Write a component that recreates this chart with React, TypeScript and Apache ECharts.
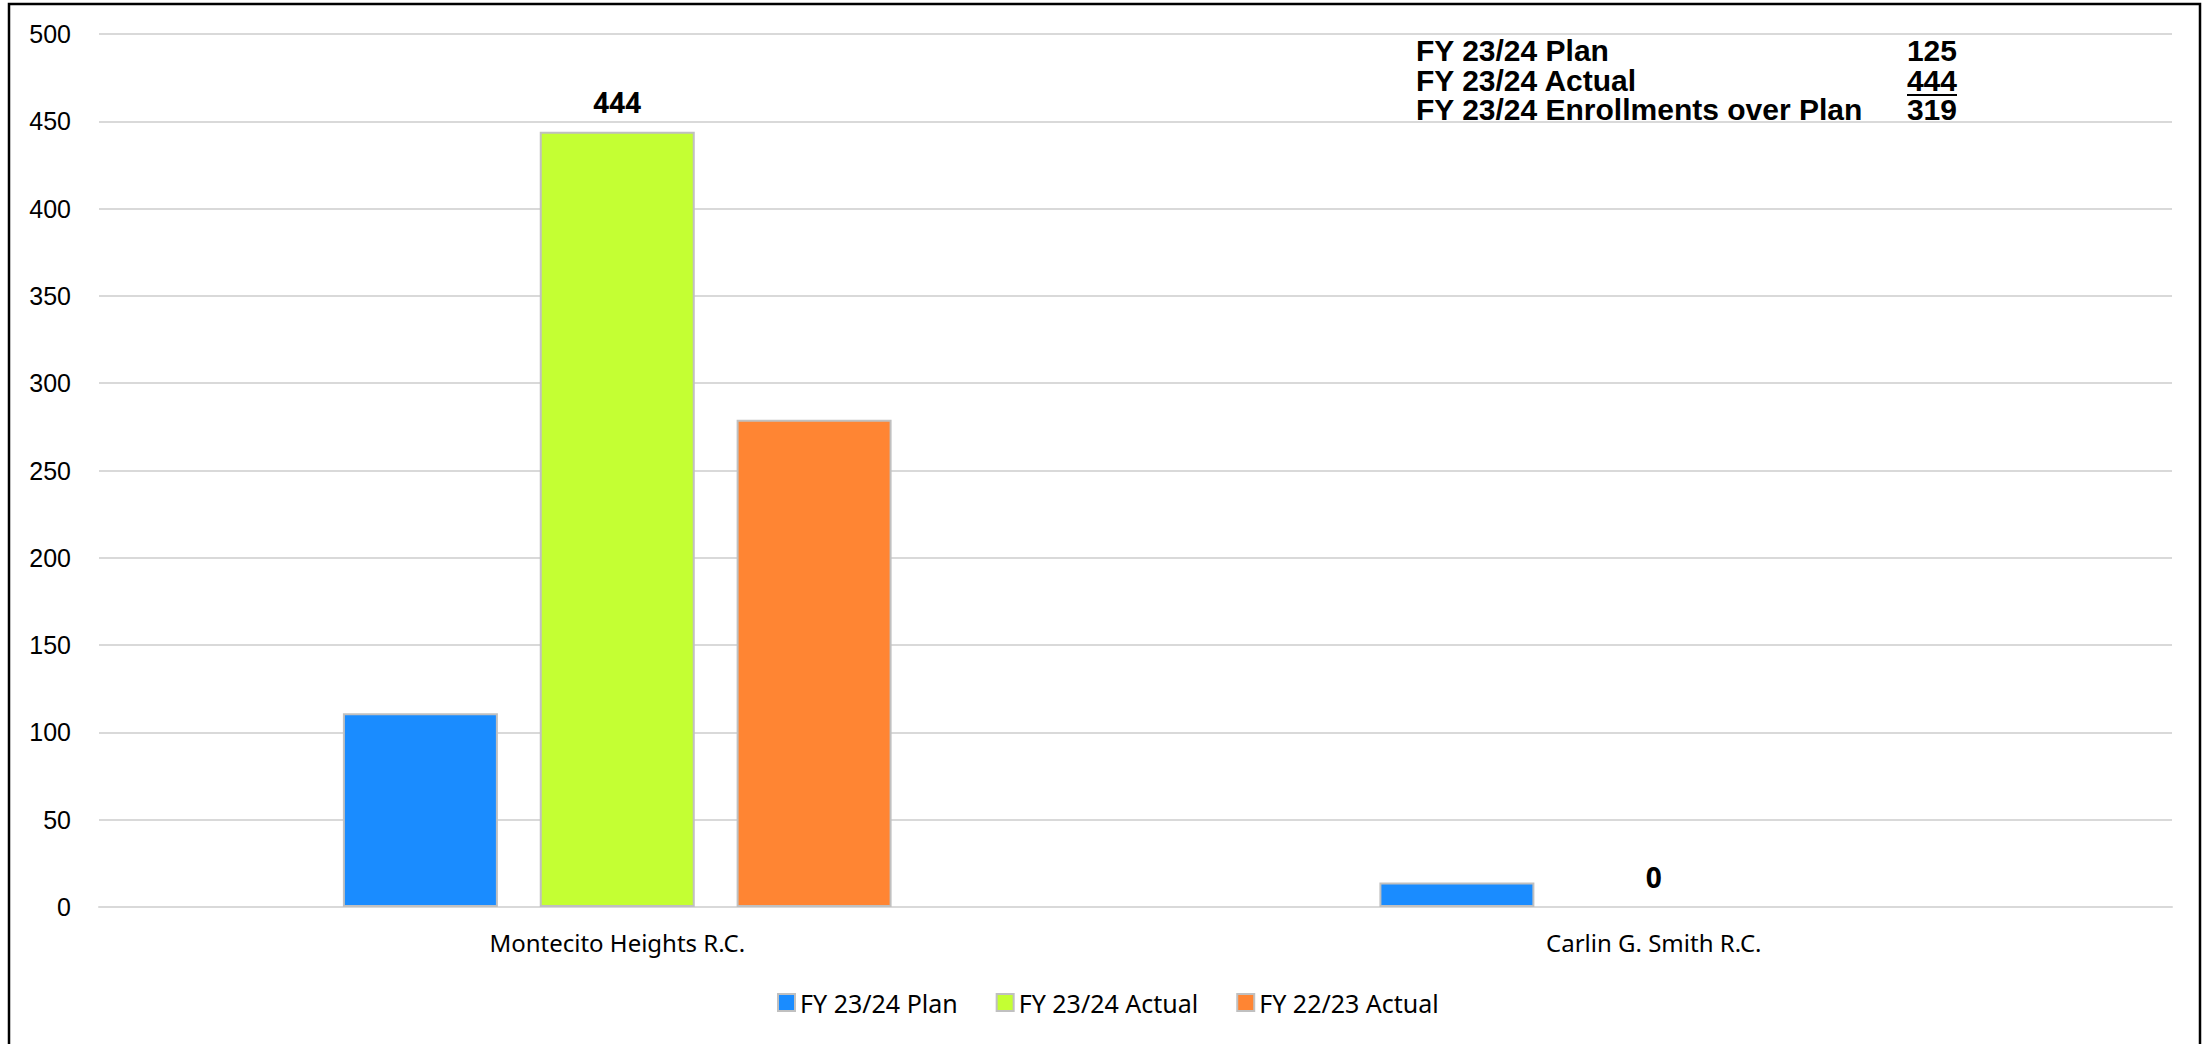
import React, { useEffect, useRef } from "react";
import * as echarts from "echarts";

const categories = ["Montecito Heights R.C.", "Carlin G. Smith R.C."];
const seriesNames = ["FY 23/24 Plan", "FY 23/24 Actual", "FY 22/23 Actual"];
const planValues = [111, 14];
const actualValues = [444, 0];
const priorValues: (number | null)[] = [279, null];
const yTicks = { min: 0, max: 500, interval: 50 };
const summaryLabels = ["FY 23/24 Plan", "FY 23/24 Actual", "FY 23/24 Enrollments over Plan"];
const summaryValues = ["125", "444", "319"];

const colors = ["#1a8cff", "#c4ff33", "#ff8533"];

export default function App() {
  const ref = useRef<HTMLDivElement>(null);
  useEffect(() => {
    if (!ref.current) return;
    const chart = echarts.init(ref.current, null, { renderer: "svg" });
    const catFont = "'Noto Sans', sans-serif";
    const boxFont = "'Liberation Sans', Arial, sans-serif";
    const lineYs = [50, 80, 109];
    const graphics: any[] = [
      {
        type: "rect",
        shape: { x: 9, y: 4, width: 2191, height: 1100 },
        style: { fill: "none", stroke: "#000", lineWidth: 2.5 },
        silent: true,
        z: 10,
      },
    ];
    summaryLabels.forEach((t, i) => {
      graphics.push({
        type: "text",
        x: 1416,
        y: lineYs[i],
        style: {
          text: t,
          font: `bold 30px ${boxFont}`,
          fill: "#000",
          align: "left",
          verticalAlign: "middle",
        },
      });
      graphics.push({
        type: "text",
        x: 1957,
        y: lineYs[i],
        style: {
          text: summaryValues[i],
          font: `bold 30px ${boxFont}`,
          fill: "#000",
          align: "right",
          verticalAlign: "middle",
        },
      });
    });
    graphics.push({
      type: "line",
      shape: { x1: 1907, y1: 95, x2: 1957, y2: 95 },
      style: { stroke: "#000", lineWidth: 2 },
    });

    const barCommon = {
      type: "bar",
      barWidth: 155,
      barGap: "27%",
      itemStyle: { borderColor: "#c0c0c0", borderWidth: 2 },
    };
    const withZeroNoBorder = (arr: (number | null)[]) =>
      arr.map((v) => (v === 0 ? { value: v, itemStyle: { borderWidth: 0 } } : v));

    chart.setOption({
      animation: false,
      color: colors,
      grid: { left: 99, right: 34, top: 34, bottom: 137, containLabel: false },
      legend: {
        data: seriesNames,
        left: 772,
        top: 985,
        itemWidth: 17,
        itemHeight: 17,
        itemGap: 38,
        icon: "rect",
        textStyle: { fontFamily: catFont, fontSize: 25, color: "#000" },
      },
      xAxis: {
        type: "category",
        data: categories,
        axisLine: { show: true, lineStyle: { color: "#d9d9d9", width: 2 } },
        axisTick: { show: false },
        axisLabel: { fontFamily: catFont, fontSize: 24, color: "#000", margin: 23 },
      },
      yAxis: {
        type: "value",
        min: yTicks.min,
        max: yTicks.max,
        interval: yTicks.interval,
        axisLine: { show: false },
        axisTick: { show: false },
        splitLine: { lineStyle: { color: "#d9d9d9", width: 2 } },
        axisLabel: {
          fontFamily: "'Liberation Sans', Arial, sans-serif",
          fontSize: 25,
          color: "#000",
          margin: 28,
        },
      },
      series: [
        { ...barCommon, name: seriesNames[0], data: withZeroNoBorder(planValues) },
        {
          ...barCommon,
          name: seriesNames[1],
          data: withZeroNoBorder(actualValues),
          label: {
            show: true,
            position: "top",
            distance: 16,
            fontFamily: catFont,
            fontWeight: "bold",
            fontSize: 28,
            color: "#000",
          },
        },
        { ...barCommon, name: seriesNames[2], data: withZeroNoBorder(priorValues) },
      ],
      graphic: graphics,
    });
    return () => chart.dispose();
  }, []);
  return (
    <div
      ref={ref}
      style={{ position: "fixed", left: 0, top: 0, width: 2206, height: 1044, background: "#fff" }}
    />
  );
}
